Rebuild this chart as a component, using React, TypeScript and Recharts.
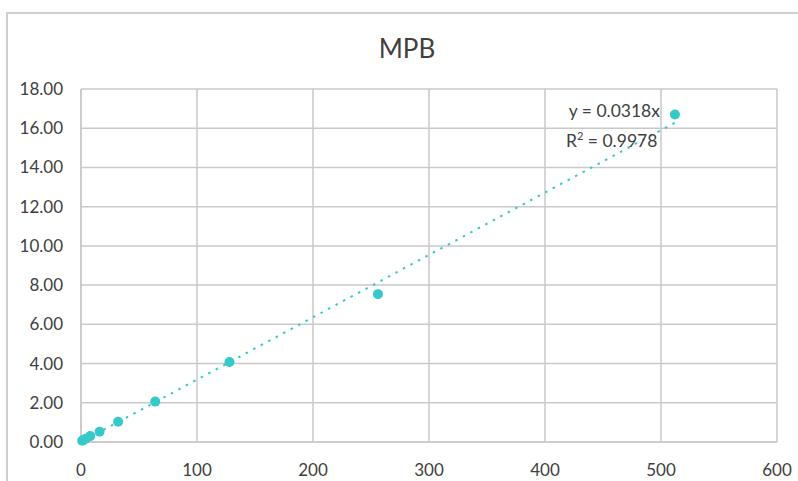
import React from "react";
import { ScatterChart, Scatter, XAxis, YAxis, CartesianGrid } from "recharts";

// Dilution series: concentration (x) against MPB response (y)
const xValues = [1, 2, 4, 8, 16, 32, 64, 128, 256, 512];
const yValues = [0.06, 0.1, 0.17, 0.3, 0.52, 1.03, 2.06, 4.08, 7.54, 16.7];

const xTicks = [0, 100, 200, 300, 400, 500, 600];
const yTicks = [0, 2, 4, 6, 8, 10, 12, 14, 16, 18];

// Linear fit through the origin
const slope = 0.0318;
const rSquared = 0.9978;
const trendX = [0, 512];

const points = xValues.map((x, i) => ({ x, y: yValues[i] }));
const trend = trendX.map((x) => ({ x, y: x * slope }));

const TEAL = "#36C9C9";
const GRID = "#c9c9c9";
const TEXT = "#404040";
const FONT = "Lato, 'Open Sans', sans-serif";

const NoShape = () => <g />;

export default function App() {
  return (
    <div style={{ position: "fixed", left: 0, top: 0, width: 798, height: 481, background: "#fff", overflow: "hidden" }}>
      <div
        style={{
          position: "absolute",
          left: 6,
          top: 12,
          width: 820,
          height: 520,
          border: "2px solid #cfcfcf",
          boxSizing: "border-box",
        }}
      />
      <ScatterChart
        width={798}
        height={481}
        margin={{ top: 89, right: 21, bottom: 0, left: 0 }}
        style={{ position: "absolute", left: 0, top: 0, fontFamily: FONT }}
      >
        <CartesianGrid stroke={GRID} strokeWidth={1.5} horizontalValues={yTicks} verticalValues={xTicks} />
        <XAxis
          type="number"
          dataKey="x"
          domain={[0, 600]}
          ticks={xTicks}
          interval={0}
          height={39}
          tickSize={0}
          tickMargin={22}
          axisLine={{ stroke: GRID, strokeWidth: 1.5 }}
          tickLine={false}
          tick={{ fill: TEXT, fontSize: 17, fontFamily: FONT }}
        />
        <YAxis
          type="number"
          dataKey="y"
          domain={[0, 18]}
          ticks={yTicks}
          interval={0}
          width={81}
          tickSize={0}
          tickMargin={18}
          axisLine={{ stroke: GRID, strokeWidth: 1.5 }}
          tickLine={false}
          tickFormatter={(v: number) => v.toFixed(2)}
          tick={{ fill: TEXT, fontSize: 17, fontFamily: FONT }}
        />
        <Scatter
          data={trend}
          line={{ stroke: TEAL, strokeWidth: 2, strokeDasharray: "2.5 6" }}
          shape={NoShape}
          isAnimationActive={false}
        />
        <Scatter data={points} fill={TEAL} shape={(p: any) => <circle cx={p.cx} cy={p.cy} r={5} fill={TEAL} />} isAnimationActive={false} />
      </ScatterChart>
      <svg width={798} height={481} style={{ position: "absolute", left: 0, top: 0, pointerEvents: "none" }}>
        <text x={407} y={58} textAnchor="middle" fontSize={26} fill={TEXT} fontFamily={FONT}>
          MPB
        </text>
        <text x={660} y={117} textAnchor="end" fontSize={17.5} fill={TEXT} fontFamily={FONT}>
          {`y = ${slope}x`}
        </text>
        <text x={566} y={147} fontSize={17.5} fill={TEXT} fontFamily={FONT}>
          R
          <tspan dy={-7} fontSize={11}>2</tspan>
          <tspan dy={7}>{` = ${rSquared}`}</tspan>
        </text>
      </svg>
    </div>
  );
}
